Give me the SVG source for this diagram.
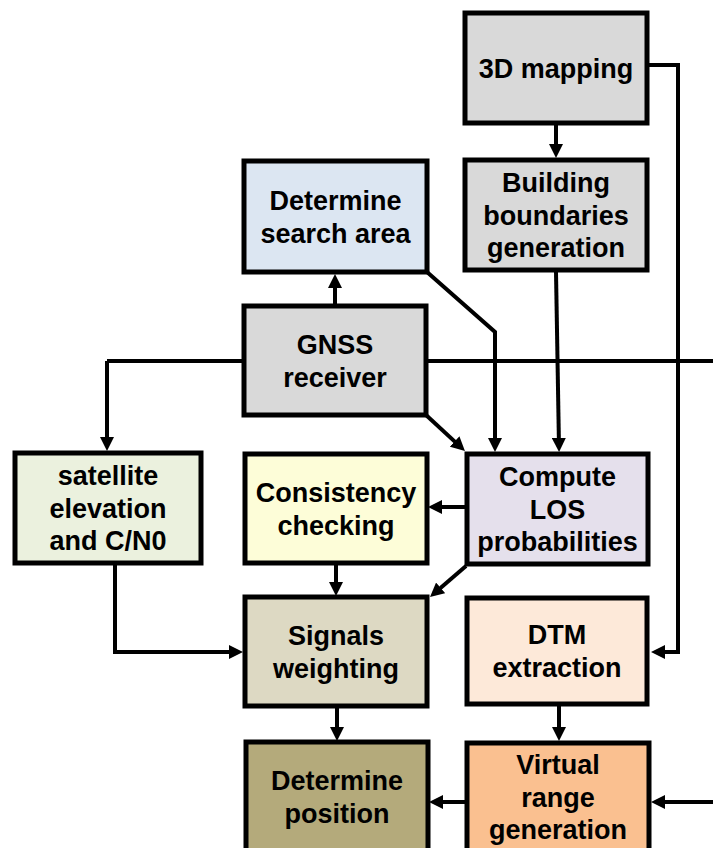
<svg xmlns="http://www.w3.org/2000/svg" width="713" height="848" viewBox="0 0 713 848">
<style>
.box{stroke:#000;stroke-width:5}
.t{font-family:"Liberation Sans",Arial,sans-serif;font-weight:bold;font-size:27px;fill:#000;text-anchor:middle}
.c{fill:none;stroke:#000;stroke-width:4;stroke-linejoin:miter}
.a{marker-end:url(#ah)}
</style>
<defs>
<marker id="ah" viewBox="0 0 14 14" markerWidth="14" markerHeight="14" markerUnits="userSpaceOnUse" refX="9" refY="7" orient="auto">
<path d="M0,0 L14,7 L0,14 z" fill="#000"/>
</marker>
</defs>
<rect width="713" height="848" fill="#fff"/>
<g id="connectors">
<path class="c" d="M107,361 H713"/>
<path class="c a" d="M107,361 V446"/>
<path class="c a" d="M556,125 V153"/>
<path class="c a" d="M649,65 H678 V652 H656"/>
<path class="c a" d="M335,306 V279"/>
<path class="c a" d="M427,272 L495,332 V447"/>
<path class="c a" d="M426,415 L461.3,447.6"/>
<path class="c a" d="M556,272 L559,447"/>
<path class="c a" d="M467,507 H433"/>
<path class="c a" d="M336,565 V591"/>
<path class="c a" d="M466,566 L433.8,593.7"/>
<path class="c a" d="M115,565 V652 H238"/>
<path class="c a" d="M337,708 V736"/>
<path class="c a" d="M559,706 V736"/>
<path class="c a" d="M467,802 H434"/>
<path class="c a" d="M713,802 H656"/>
</g>
<g id="n3d">
<rect class="box" x="465" y="13" width="182" height="110" fill="#d9d9d9"/>
<text class="t" x="556" y="77.5">3D mapping</text>
</g>
<g id="nbuilding">
<rect class="box" x="465" y="160" width="182" height="110" fill="#d9d9d9"/>
<text class="t" x="556" y="192">Building</text>
<text class="t" x="556" y="224.5">boundaries</text>
<text class="t" x="556" y="257">generation</text>
</g>
<g id="nsearch">
<rect class="box" x="244" y="161" width="183" height="111" fill="#dce6f2"/>
<text class="t" x="335.5" y="210">Determine</text>
<text class="t" x="335.5" y="242.5">search area</text>
</g>
<g id="ngnss">
<rect class="box" x="244" y="306" width="182" height="109" fill="#d9d9d9"/>
<text class="t" x="335" y="354">GNSS</text>
<text class="t" x="335" y="386.5">receiver</text>
</g>
<g id="nsat">
<rect class="box" x="15" y="453" width="186" height="110" fill="#ebf1de"/>
<text class="t" x="108" y="485">satellite</text>
<text class="t" x="108" y="517.5">elevation</text>
<text class="t" x="108" y="550">and C/N0</text>
</g>
<g id="ncons">
<rect class="box" x="245" y="454" width="182" height="109" fill="#fdfdd8"/>
<text class="t" x="336" y="502">Consistency</text>
<text class="t" x="336" y="534.5">checking</text>
</g>
<g id="nlos">
<rect class="box" x="467" y="454" width="181" height="110" fill="#e5e0ec"/>
<text class="t" x="557.5" y="486">Compute</text>
<text class="t" x="557.5" y="518.5">LOS</text>
<text class="t" x="557.5" y="551">probabilities</text>
</g>
<g id="nsignals">
<rect class="box" x="245" y="597" width="182" height="109" fill="#ddd9c3"/>
<text class="t" x="336" y="645">Signals</text>
<text class="t" x="336" y="677.5">weighting</text>
</g>
<g id="ndtm">
<rect class="box" x="467" y="598" width="180" height="106" fill="#fde9d9"/>
<text class="t" x="557" y="644">DTM</text>
<text class="t" x="557" y="676.5">extraction</text>
</g>
<g id="nposition">
<rect class="box" x="246" y="742" width="182" height="112" fill="#b4aa7b"/>
<text class="t" x="337" y="790">Determine</text>
<text class="t" x="337" y="822.5">position</text>
</g>
<g id="nvirtual">
<rect class="box" x="467" y="743" width="182" height="112" fill="#fac090"/>
<text class="t" x="558" y="774">Virtual</text>
<text class="t" x="558" y="806.5">range</text>
<text class="t" x="558" y="839">generation</text>
</g>
</svg>
